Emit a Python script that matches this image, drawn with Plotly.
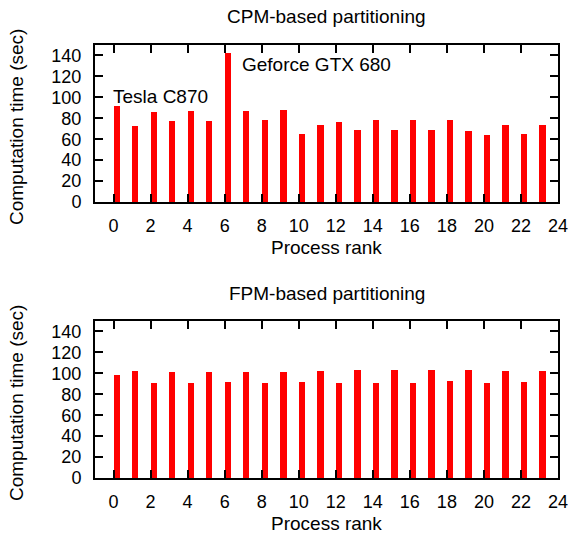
import plotly.graph_objects as go

ranks = list(range(24))
cpm_times = [92, 73, 85.6, 77.3, 86.6, 77.3, 141.9, 87.2, 78, 87.5, 65.2, 73.5,
             76, 68.4, 78, 68.4, 78, 68.4, 78.6, 67.8, 63.6, 73.5, 65.2, 73.2]
fpm_times = [98.7, 101.8, 91, 101.5, 91, 101.5, 91.3, 101.5, 91, 101.5, 91.3, 101.8,
             90.3, 103.4, 90.3, 103.4, 91, 103.4, 92.3, 103.4, 91, 102.4, 91.6, 102.4]
x_ticks = list(range(0, 25, 2))
y_ticks = list(range(0, 141, 20))
titles = ["CPM-based partitioning", "FPM-based partitioning"]
x_title = "Process rank"
y_title = "Computation time (sec)"
labels = [("Tesla C870", 0, 101), ("Geforce GTX 680", 7, 131)]

W, H = 572, 534
FONT = "Liberation Sans, Arial, Helvetica, sans-serif"
FS = 19

def px(y):
    return 1 - y / H

x_dom = [95 / W, 558 / W]
panels = [(45, 202), (321, 478)]

fig = go.Figure()
for i, vals in enumerate([cpm_times, fpm_times]):
    xa = "x" if i == 0 else "x2"
    ya = "y" if i == 0 else "y2"
    fig.add_trace(go.Bar(x=ranks, y=vals, width=0.34, offset=0.0,
                         marker=dict(color="#ff0000", line=dict(width=0)),
                         xaxis=xa, yaxis=ya, showlegend=False))

axis_common = dict(showline=True, linecolor="black", linewidth=2, mirror="ticks",
                   ticks="inside", ticklen=8, tickwidth=1.5, tickcolor="black",
                   showgrid=False, zeroline=False, automargin=False,
                   tickfont=dict(family=FONT, size=18, color="black"))

layout = dict(width=W, height=H, margin=dict(l=0, r=0, t=0, b=0),
              plot_bgcolor="white", paper_bgcolor="white",
              font=dict(family=FONT, size=FS, color="black"), bargap=0)

annotations = []
for i, (top, bot) in enumerate(panels):
    sfx = "" if i == 0 else "2"
    layout["xaxis" + sfx] = dict(axis_common, domain=x_dom, range=[-1, 24],
                                 tickvals=x_ticks, anchor="y" + sfx,
                                 ticklabelstandoff=6)
    layout["yaxis" + sfx] = dict(axis_common, domain=[px(bot), px(top)], range=[0, 150],
                                 tickvals=y_ticks, anchor="x" + sfx,
                                 ticklabelstandoff=8)
    annotations.append(dict(text=titles[i], x=326.5 / W, y=px(top - 28), xref="paper", yref="paper",
                            showarrow=False, xanchor="center", yanchor="middle",
                            font=dict(family=FONT, size=FS)))
    annotations.append(dict(text=x_title, x=326.5 / W, y=px(bot + 45), xref="paper", yref="paper",
                            showarrow=False, xanchor="center", yanchor="middle",
                            font=dict(family=FONT, size=FS)))
    annotations.append(dict(text=y_title, x=16.5 / W, y=px((top + bot) / 2 + 4), xref="paper", yref="paper",
                            showarrow=False, xanchor="center", yanchor="middle", textangle=-90,
                            font=dict(family=FONT, size=FS)))

for text, lx, ly in labels:
    annotations.append(dict(text=text, x=lx, y=ly, xref="x", yref="y", showarrow=False,
                            xanchor="left", yanchor="middle", xshift=-3,
                            font=dict(family=FONT, size=FS)))

layout["annotations"] = annotations
fig.update_layout(**layout)
fig.write_html("out.html", config={"displayModeBar": False},
               post_script="document.body.style.margin='0';document.body.style.overflow='hidden';")
